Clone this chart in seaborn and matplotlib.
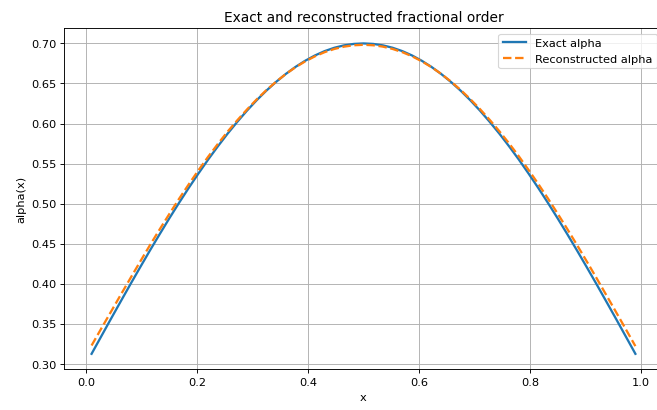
import matplotlib
matplotlib.use("Agg")
import matplotlib.pyplot as plt
import seaborn as sns
import pandas as pd

# sample positions along the domain
x = [0.01, 0.0275, 0.045, 0.0625, 0.08, 0.0975, 0.115, 0.1325, 0.15, 0.1675,
     0.185, 0.2025, 0.22, 0.2375, 0.255, 0.2725, 0.29, 0.3075, 0.325, 0.3425,
     0.36, 0.3775, 0.395, 0.4125, 0.43, 0.4475, 0.465, 0.4825, 0.5, 0.5175,
     0.535, 0.5525, 0.57, 0.5875, 0.605, 0.6225, 0.64, 0.6575, 0.675, 0.6925,
     0.71, 0.7275, 0.745, 0.7625, 0.78, 0.7975, 0.815, 0.8325, 0.85, 0.8675,
     0.885, 0.9025, 0.92, 0.9375, 0.955, 0.9725, 0.99]

# exact fractional order
alpha_exact = [0.3126, 0.3345, 0.3564, 0.3780, 0.3995, 0.4206, 0.4414, 0.4617,
               0.4816, 0.5009, 0.5196, 0.5376, 0.5550, 0.5715, 0.5873, 0.6021,
               0.6161, 0.6291, 0.6411, 0.6520, 0.6619, 0.6707, 0.6784, 0.6850,
               0.6904, 0.6946, 0.6976, 0.6994, 0.7000, 0.6994, 0.6976, 0.6946,
               0.6904, 0.6850, 0.6784, 0.6707, 0.6619, 0.6520, 0.6411, 0.6291,
               0.6161, 0.6021, 0.5873, 0.5715, 0.5550, 0.5376, 0.5196, 0.5009,
               0.4816, 0.4617, 0.4414, 0.4206, 0.3995, 0.3780, 0.3564, 0.3345,
               0.3126]

# reconstructed fractional order
alpha_rec = [0.3230, 0.3442, 0.3652, 0.3862, 0.4070, 0.4276, 0.4480, 0.4677,
             0.4870, 0.5059, 0.5240, 0.5416, 0.5585, 0.5745, 0.5898, 0.6040,
             0.6175, 0.6301, 0.6417, 0.6522, 0.6618, 0.6703, 0.6776, 0.6839,
             0.6891, 0.6931, 0.6960, 0.6977, 0.6983, 0.6977, 0.6960, 0.6931,
             0.6891, 0.6840, 0.6777, 0.6704, 0.6620, 0.6525, 0.6420, 0.6305,
             0.6180, 0.6046, 0.5903, 0.5751, 0.5591, 0.5421, 0.5246, 0.5064,
             0.4875, 0.4681, 0.4482, 0.4278, 0.4071, 0.3860, 0.3649, 0.3436,
             0.3222]

df = pd.DataFrame({"x": x, "exact": alpha_exact, "rec": alpha_rec})

fig = plt.figure(figsize=(8, 5), dpi=82.125)
ax = fig.add_axes([0.098, 0.099, 0.9105, 0.8315])

sns.lineplot(data=df, x="x", y="exact", ax=ax, color="#1f77b4", lw=2,
             label="Exact alpha")
sns.lineplot(data=df, x="x", y="rec", ax=ax, color="#ff7f0e", lw=2,
             linestyle="--", label="Reconstructed alpha")

ax.set_title("Exact and reconstructed fractional order", fontsize=12)
ax.set_xlabel("x")
ax.set_ylabel("alpha(x)")
ax.grid(True)
ax.legend(loc="upper right")

fig.savefig("out.png", dpi=82.125)
